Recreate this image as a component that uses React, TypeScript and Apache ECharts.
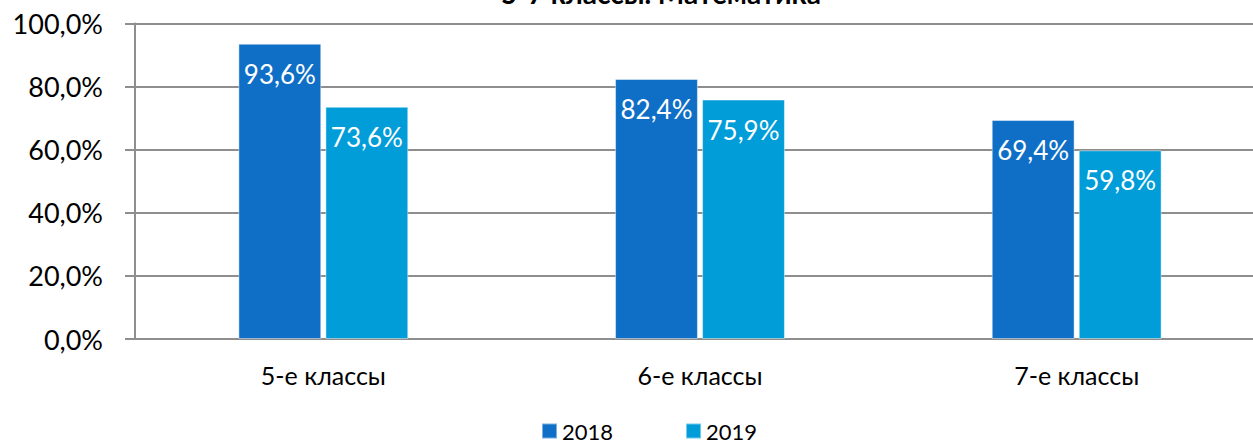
import React, { useEffect, useRef } from "react";
import * as echarts from "echarts";

const categories = ["5-е классы", "6-е классы", "7-е классы"];
const series2018 = [93.6, 82.4, 69.4];
const series2019 = [73.6, 75.9, 59.8];
const seriesNames = ["2018", "2019"];
const titleText = "5-7 классы. Математика";

const FONT = "Lato, 'Noto Sans', sans-serif";
const fmt = (v: number) => v.toFixed(1).replace(".", ",") + "%";

export default function App() {
  const ref = useRef<HTMLDivElement>(null);
  useEffect(() => {
    document.body.style.margin = "0";
    document.body.style.overflow = "hidden";
    const chart = echarts.init(ref.current!, undefined, { renderer: "svg" });
    const label = {
      show: true,
      position: "insideTop",
      distance: 17,
      color: "#ffffff",
      fontSize: 26,
      fontFamily: FONT,
      formatter: (p: any) => fmt(p.value),
    };
    chart.setOption({
      animation: false,
      textStyle: { fontFamily: FONT },
      graphic: [
        {
          type: "text",
          style: {
            text: titleText,
            x: 661,
            y: 6.5,
            textAlign: "center",
            textVerticalAlign: "bottom",
            fontSize: 28,
            fontWeight: "bold",
            fontFamily: FONT,
            fill: "#000",
          },
        },
      ],
      grid: { left: 135, top: 23.5, width: 1130, height: 315.5, containLabel: false },
      xAxis: {
        type: "category",
        data: categories,
        axisLine: { show: true, lineStyle: { color: "#8e8e8e", width: 2 } },
        axisTick: { show: false },
        axisLabel: { color: "#000", fontSize: 25, fontFamily: FONT, margin: 23 },
      },
      yAxis: {
        type: "value",
        min: 0,
        max: 100,
        interval: 20,
        axisLine: { show: true, lineStyle: { color: "#8e8e8e", width: 2 } },
        axisTick: { show: true, length: 10, lineStyle: { color: "#8e8e8e", width: 2 } },
        splitLine: { show: true, lineStyle: { color: "#8e8e8e", width: 2 } },
        axisLabel: {
          color: "#000",
          fontSize: 27,
          fontFamily: FONT,
          margin: 32,
          formatter: (v: number) => fmt(v),
        },
      },
      legend: {
        data: seriesNames,
        left: 541,
        top: 420,
        padding: 0,
        itemWidth: 15,
        itemHeight: 15,
        itemGap: 72,
        icon: "rect",
        textStyle: { color: "#000", fontSize: 22, fontFamily: FONT },
      },
      series: [
        {
          name: seriesNames[0],
          type: "bar",
          data: series2018,
          barWidth: "22%",
          barGap: "5%",
          itemStyle: { color: "#0F6FC6", borderColor: "rgba(255,255,255,0.45)", borderWidth: 1 },
          label,
        },
        {
          name: seriesNames[1],
          type: "bar",
          data: series2019,
          barWidth: "22%",
          barGap: "5%",
          itemStyle: { color: "#009DD9", borderColor: "rgba(255,255,255,0.45)", borderWidth: 1 },
          label,
        },
      ],
    });
    return () => chart.dispose();
  }, []);
  return (
    <div style={{ width: 1253, height: 443, overflow: "hidden" }}>
      <div ref={ref} style={{ width: 1266, height: 443 }} />
    </div>
  );
}
